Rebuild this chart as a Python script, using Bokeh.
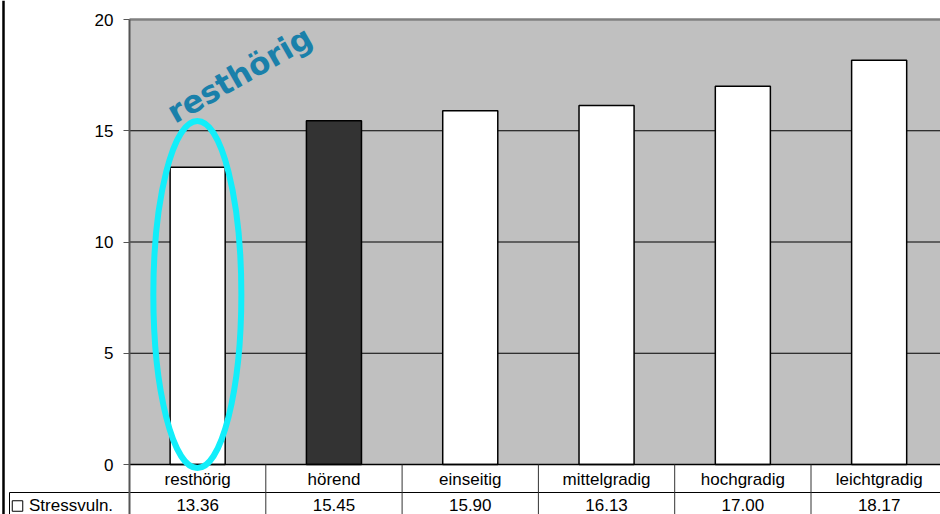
from bokeh.plotting import figure
from bokeh.models import Range1d, LinearAxis, FixedTicker
from bokeh.core.properties import value
from bokeh.embed import file_html
from bokeh.resources import INLINE

# ---- data ----
categories = ["resthörig", "hörend", "einseitig", "mittelgradig", "hochgradig", "leichtgradig"]
values = [13.36, 15.45, 15.90, 16.13, 17.00, 18.17]
series_name = "Stressvuln."
y_ticks = [0, 5, 10, 15, 20]
highlight_label = "resthörig"
dark_category = "hörend"
circled_category = "resthörig"

# ---- geometry ----
PX_X = 136.3   # px per category
PX_Y = 22.25   # px per y unit
W, H = 940, 514
x0 = -0.5 - 129 / PX_X
x1 = x0 + W / PX_X
y1 = 20 + 19 / PX_Y
y0 = y1 - H / PX_Y


def sx(px):
    return x0 + px / PX_X


def sy(py):
    return y1 - py / PX_Y


row_y = sy(492)
val_mid = sy(504.5)
legend_left = sx(9)

xs = list(range(len(categories)))
fills = ["#333333" if c == dark_category else "white" for c in categories]

p = figure(width=W, height=H, output_backend="svg", toolbar_location=None,
           x_range=Range1d(x0, x1), y_range=Range1d(y0, y1),
           x_axis_type=None, y_axis_type=None,
           min_border_left=0, min_border_right=0, min_border_top=0, min_border_bottom=0)
p.outline_line_color = None
p.grid.visible = False
p.background_fill_color = "white"
p.border_fill_color = "white"

# plot area background
p.quad(left=-0.5, right=x1 + 1, bottom=0, top=20, fill_color="#C0C0C0", line_color=None)
# gridlines
gy = [t for t in y_ticks if 0 < t < 20]
p.segment(x0=[-0.5] * len(gy), y0=gy, x1=[x1 + 1] * len(gy), y1=gy, line_color="black", line_width=1)
p.segment(x0=[-0.5], y0=[20], x1=[x1 + 1], y1=[20], line_color="#808080", line_width=2.5)

# bars
p.vbar(x=xs, top=values, bottom=0, width=0.404, fill_color=fills, line_color="black", line_width=1.5)

# table lines
p.segment(x0=[-0.5], y0=[0], x1=[x1 + 1], y1=[0], line_color="black", line_width=1.5)
p.segment(x0=[legend_left], y0=[row_y], x1=[x1 + 1], y1=[row_y], line_color="black", line_width=1)
bx = [i + 0.5 for i in xs]
p.segment(x0=bx, y0=[0] * len(bx), x1=bx, y1=[y0] * len(bx), line_color="#333333", line_width=1)
p.segment(x0=[legend_left], y0=[row_y], x1=[legend_left], y1=[y0], line_color="black", line_width=1)
p.segment(x0=[sx(3)], y0=[y1], x1=[sx(3)], y1=[y0], line_color="black", line_width=2.5)

# category labels
p.text(x=xs, y=[sy(478.5)] * len(xs), text=categories, text_align="center",
       text_baseline="middle", text_font=value("Liberation Sans"), text_font_size="17px",
       text_color="black")
# value labels
p.text(x=xs, y=[val_mid] * len(xs), text=[f"{v:.2f}" for v in values], text_align="center",
       text_baseline="middle", text_font=value("Liberation Sans"), text_font_size="17px",
       text_color="black")
# legend key
p.scatter(x=[sx(17)], y=[sy(505.5)], marker="square", size=10.5,
          fill_color="white", line_color="black", line_width=1)
p.text(x=[sx(28.5)], y=[val_mid], text=[series_name], text_align="left",
       text_baseline="middle", text_font=value("Liberation Sans"), text_font_size="17px",
       text_color="black")

# annotation
ci = categories.index(circled_category)
p.ellipse(x=[ci - 0.3 / PX_X], y=[(464 - 294) / PX_Y], width=[88 / PX_X], height=[347 / PX_Y],
          fill_color=None, line_color="#12EEFA", line_width=6)
p.text(x=[ci - 28 / PX_X], y=[(464 - 114) / PX_Y], text=[highlight_label], angle=0.52,
       text_align="left", text_baseline="alphabetic", text_font=value("DejaVu Sans"),
       text_font_style="bold", text_font_size="31px", text_color="#1A80AA")

# y axis
ax = LinearAxis(fixed_location=-0.5, ticker=FixedTicker(ticks=y_ticks), bounds=(y0, 20))
ax.axis_line_color = "#555555"
ax.axis_line_width = 2
ax.major_tick_line_color = "#555555"
ax.major_tick_out = 6
ax.major_tick_in = 0
ax.minor_tick_line_color = None
ax.major_label_standoff = 10
ax.major_label_text_font = "Liberation Sans"
ax.major_label_text_font_size = "17px"
ax.major_label_text_color = "black"
p.add_layout(ax, "left")

open("out.html", "w").write(file_html(p, INLINE))
